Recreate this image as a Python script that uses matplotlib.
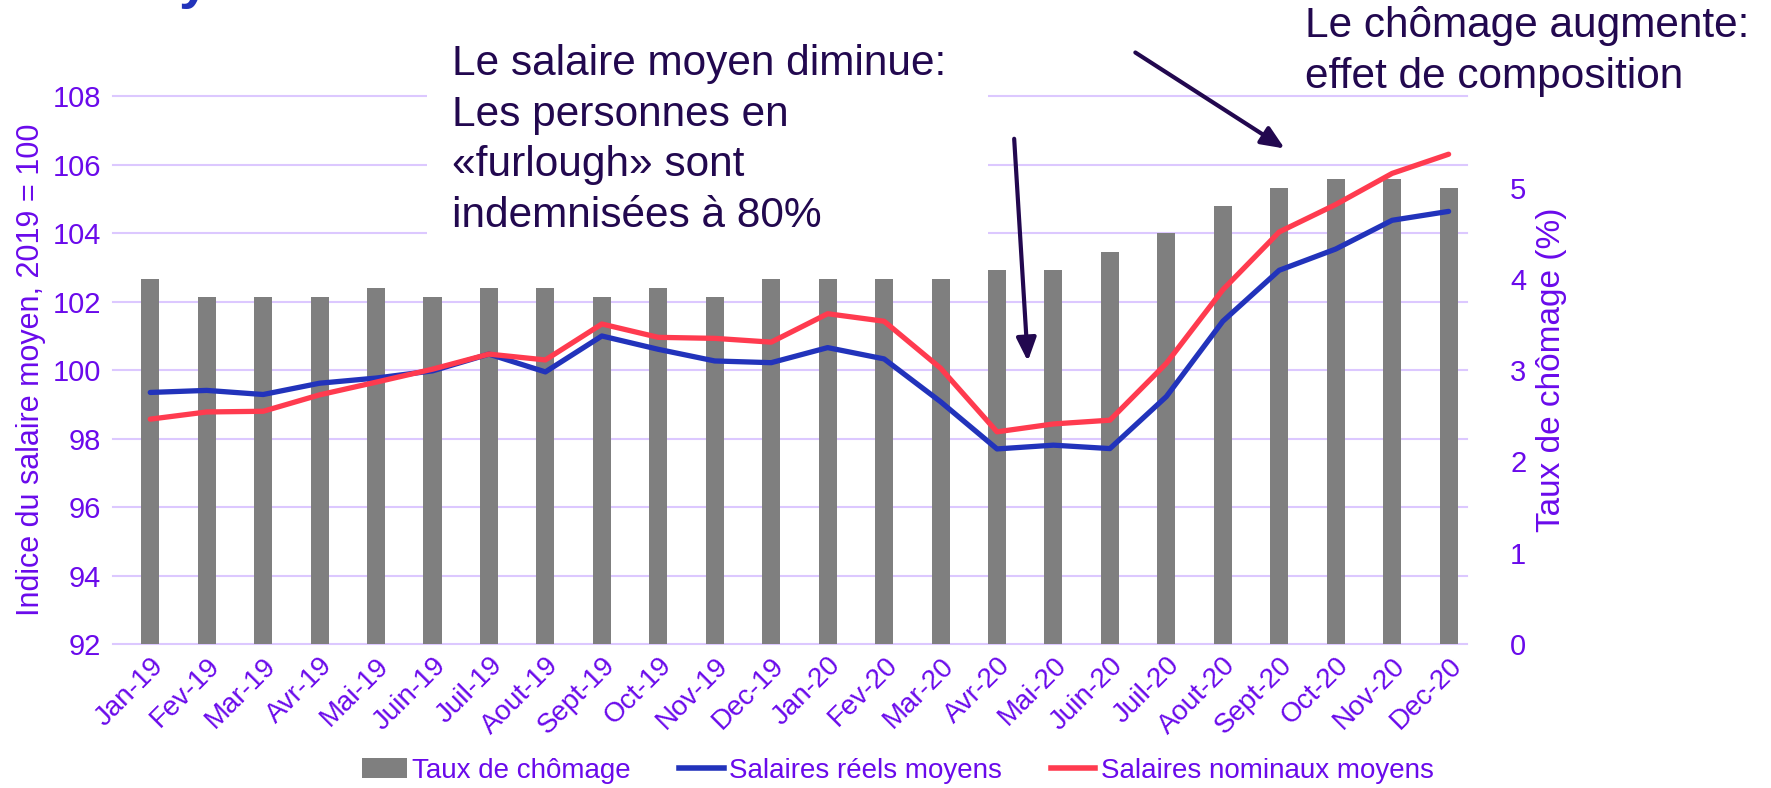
import matplotlib
matplotlib.use('Agg')
import matplotlib.pyplot as plt
from matplotlib.lines import Line2D
from matplotlib.patches import Patch, Rectangle, FancyArrowPatch
from matplotlib.transforms import blended_transform_factory

plt.rcParams['font.family'] = ['Liberation Sans', 'DejaVu Sans']

months = ['Jan-19', 'Fev-19', 'Mar-19', 'Avr-19', 'Mai-19', 'Juin-19',
          'Juil-19', 'Aout-19', 'Sept-19', 'Oct-19', 'Nov-19', 'Dec-19',
          'Jan-20', 'Fev-20', 'Mar-20', 'Avr-20', 'Mai-20', 'Juin-20',
          'Juil-20', 'Aout-20', 'Sept-20', 'Oct-20', 'Nov-20', 'Dec-20']

chomage = [4.0, 3.8, 3.8, 3.8, 3.9, 3.8, 3.9, 3.9, 3.8, 3.9, 3.8, 4.0,
           4.0, 4.0, 4.0, 4.1, 4.1, 4.3, 4.5, 4.8, 5.0, 5.1, 5.1, 5.0]

salaires_reels = [99.35, 99.41, 99.29, 99.62, 99.77, 99.98, 100.47, 99.95,
                  101.0, 100.61, 100.27, 100.22, 100.66, 100.33, 99.08, 97.70,
                  97.81, 97.71, 99.23, 101.43, 102.92, 103.54, 104.38, 104.64]

salaires_nominaux = [98.57, 98.78, 98.80, 99.28, 99.65, 100.03, 100.47, 100.30,
                     101.35, 100.96, 100.93, 100.82, 101.65, 101.43, 100.06, 98.20,
                     98.43, 98.54, 100.2, 102.35, 104.04, 104.84, 105.75, 106.31]

left_ticks = [92, 94, 96, 98, 100, 102, 104, 106, 108]
right_ticks = [0, 1, 2, 3, 4, 5]

purple = '#6A0AEB'
dark = '#22084F'
grey = '#7F7F7F'
blue = '#2233BB'
red = '#FF3B4F'
grid = '#DCC8FF'

fig = plt.figure(figsize=(17.71, 7.88), dpi=100)
ax = fig.add_axes([0.0689, 0.1827, 0.765, 0.695])
ax2 = ax.twinx()
ax.set_zorder(ax2.get_zorder() + 1)
ax.patch.set_visible(False)

x = list(range(len(months)))

# bars on the right axis
ax2.bar(x, chomage, width=0.32, color=grey, zorder=2)
ax2.set_ylim(0, 6)
ax2.set_yticks(right_ticks)

# gridlines follow the left axis, drawn behind the bars
tr = blended_transform_factory(ax2.transAxes, ax.transData)
for v in left_ticks:
    ax2.plot([-0.007, 0.993], [v, v], color=grid, lw=1.5, transform=tr,
             zorder=0, clip_on=False)

ax.plot(x, salaires_reels, color=blue, lw=3.8, solid_capstyle='round')
ax.plot(x, salaires_nominaux, color=red, lw=3.8, solid_capstyle='round')
ax.set_ylim(92, 108)
ax.set_yticks(left_ticks)
ax.set_xlim(-0.5, len(months) - 0.5)
ax.set_xticks(x)
ax.set_xticklabels(months, rotation=45, ha='right', rotation_mode='anchor')

for a in (ax, ax2):
    for s in a.spines.values():
        s.set_visible(False)
    a.tick_params(length=0, labelsize=21, labelcolor=purple)
ax.tick_params(axis='x', pad=6, labelsize=20)
ax.tick_params(axis='y', pad=15)
ax2.tick_params(axis='y', pad=24)

ax.set_ylabel('Indice du salaire moyen, 2019 = 100', fontsize=22, color=purple)
ax.yaxis.set_label_coords(-0.056, 0.5)
ax2.set_ylabel('Taux de chômage (%)', fontsize=24, color=purple)
ax2.yaxis.set_label_coords(1.044, 0.5)

handles = [Patch(facecolor=grey), Line2D([], [], color=blue, lw=4),
           Line2D([], [], color=red, lw=4)]
labels = ['Taux de chômage', 'Salaires réels moyens', 'Salaires nominaux moyens']
fig.legend(handles, labels, loc='center', bbox_to_anchor=(0.507, 0.022), ncol=3,
           frameon=False, fontsize=20, labelcolor=purple, handlelength=1.6,
           handletextpad=0.2, columnspacing=1.75)

# cut-off title at the top
fig.text(0.101, 1.004, 'y', fontsize=40, fontweight='bold', color='#2233BB',
         va='baseline')

# white box of the text frame, hides the gridlines
fig.add_artist(Rectangle((427, 788 - 240), 561, 215, transform=None,
                         facecolor='white', edgecolor='none'))
fig.text(452 / 1771, 1 - 44 / 788,
         'Le salaire moyen diminue:\nLes personnes en\n«furlough» sont\nindemnisées à 80%',
         fontsize=30.5, color=dark, va='top', ha='left', linespacing=1.34)
fig.text(1305 / 1771, 1 - 6 / 788, 'Le chômage augmente:\neffet de composition',
         fontsize=30.5, color=dark, va='top', ha='left', linespacing=1.34)

fig.add_artist(FancyArrowPatch(
    (1014, 788 - 136), (1028, 788 - 364), transform=None,
    arrowstyle='-|>,head_length=14,head_width=6', color=dark, lw=3))
fig.add_artist(FancyArrowPatch(
    (1133, 788 - 51), (1287, 788 - 150), transform=None,
    arrowstyle='-|>,head_length=14,head_width=6', color=dark, lw=3))

fig.savefig('out.png', dpi=100)
